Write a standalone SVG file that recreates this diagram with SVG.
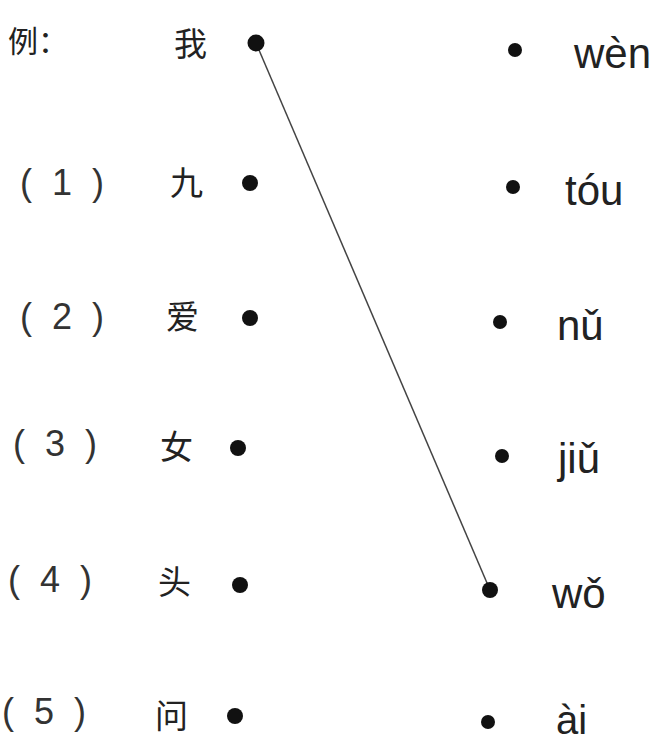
<svg xmlns="http://www.w3.org/2000/svg" width="665" height="743" viewBox="0 0 665 743">
<style>
.cn{font-family:"Noto Sans CJK SC","Noto Sans CJK JP",serif;font-size:33px;fill:#222}
.num{font-family:"Liberation Sans",sans-serif;font-size:36px;fill:#333;letter-spacing:5px}
.py{font-family:"Liberation Sans",sans-serif;font-size:42px;fill:#222}
.dot{fill:#111}
.link{stroke:#444;stroke-width:1.5;fill:none}
</style>
<rect width="665" height="743" fill="#fff"/>
<g id="connectors">
<line class="link" x1="256" y1="43" x2="490" y2="590"/>
</g>
<g id="example"><text class="cn" x="8" y="52" style="font-size:30px">例：</text></g>
<g id="l0"><text class="cn" x="174" y="56">我</text><circle class="dot" cx="256" cy="43" r="8.5"/></g>
<g id="l1"><text class="num" x="20" y="195">( 1 )</text><text class="cn" x="170" y="195">九</text><circle class="dot" cx="250" cy="183" r="8"/></g>
<g id="l2"><text class="num" x="20" y="329">( 2 )</text><text class="cn" x="166" y="329">爱</text><circle class="dot" cx="250" cy="318" r="8"/></g>
<g id="l3"><text class="num" x="13" y="456">( 3 )</text><text class="cn" x="160" y="459">女</text><circle class="dot" cx="238" cy="448" r="8"/></g>
<g id="l4"><text class="num" x="8" y="592">( 4 )</text><text class="cn" x="158" y="594">头</text><circle class="dot" cx="240" cy="585" r="8"/></g>
<g id="l5"><text class="num" x="2" y="724">( 5 )</text><text class="cn" x="155" y="728">问</text><circle class="dot" cx="235" cy="716" r="8"/></g>
<g id="r0"><circle class="dot" cx="515" cy="50" r="7"/><text class="py" x="574" y="68">wèn</text></g>
<g id="r1"><circle class="dot" cx="513" cy="187" r="7"/><text class="py" x="565" y="205">tóu</text></g>
<g id="r2"><circle class="dot" cx="500" cy="322" r="7"/><text class="py" x="557" y="340">nǔ</text></g>
<g id="r3"><circle class="dot" cx="502" cy="456" r="7"/><text class="py" x="558" y="473">jiǔ</text></g>
<g id="r4"><circle class="dot" cx="490" cy="590" r="8"/><text class="py" x="552" y="608">wǒ</text></g>
<g id="r5"><circle class="dot" cx="488" cy="722" r="7"/><text class="py" x="556" y="734" style="font-size:40px">ài</text></g>
</svg>
